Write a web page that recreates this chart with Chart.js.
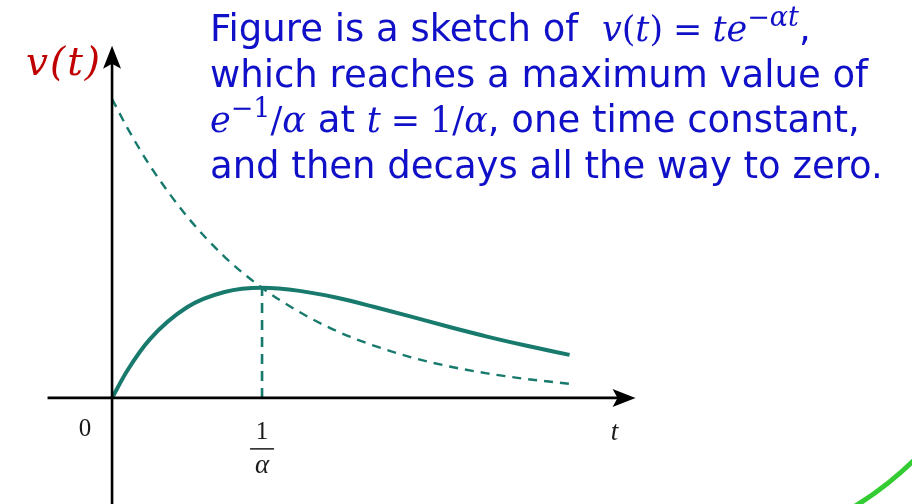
<!DOCTYPE html>
<html>
<head>
<meta charset="utf-8">
<script src="https://cdn.jsdelivr.net/npm/chart.js@4.4.1/dist/chart.umd.min.js"></script>
<style>
  html, body { margin: 0; padding: 0; background: #fff; }
  #wrap { position: relative; width: 912px; height: 504px; overflow: hidden; }
  #plot { position: absolute; left: 0; top: 0; }
  #note {
    position: absolute; left: 210px; top: 6px;
    font-family: "DejaVu Sans", Verdana, sans-serif;
    font-size: 37px; line-height: 45px; color: #1010c8;
    white-space: nowrap;
  }
  #note .m { font-family: "DejaVu Serif", "Liberation Serif", serif; font-size: 35px; }
  #note .m i { font-style: italic; }
  #note .eq { margin: 0 10px; }
  #note sup { font-size: 27px; vertical-align: 15px; line-height: 0; }
</style>
</head>
<body>
<div id="wrap">
  <canvas id="plot" width="912" height="504"></canvas>
  <div id="note">
    Figure is a sketch of&nbsp; <span class="m"><i>v</i>(<i>t</i>)<span class="eq">=</span><i>te</i><sup>−<i>αt</i></sup></span>,<br>
    which reaches a maximum value of<br>
    <span class="m"><i>e</i><sup>−1</sup>/<i>α</i></span> at <span class="m"><i>t</i><span class="eq">=</span>1/<i>α</i></span>, one time constant,<br>
    and then decays all the way to zero.
  </div>
</div>
<script>
// time in units of 1/alpha
const tValues = [0, 0.1, 0.25, 0.5, 0.75, 1, 1.25, 1.5, 1.75, 2, 2.25, 2.5, 2.75, 3.05];
// v(t) = t e^(-at)
const responseValues = [0, 0.09, 0.195, 0.303, 0.354, 0.368, 0.358, 0.335, 0.304, 0.271, 0.237, 0.205, 0.176, 0.144];
// e^(-at) envelope (dashed)
const envelopeValues = [1, 0.905, 0.779, 0.607, 0.472, 0.368, 0.287, 0.223, 0.174, 0.135, 0.105, 0.082, 0.064, 0.047];
// marker at one time constant
const peakT = [1, 1];
const peakV = [0, 0.368];

const teal = '#177a6d';

function toPoints(xs, ys){
    return xs.map(function(x, i){ return {x: x, y: ys[i]}; });
}

// axes, arrows and axis labels drawn on top of the datasets
const sketchAxes = {
    id: 'sketchAxes',
    afterDraw: function(chart){
        const ctx = chart.ctx;
        const xs = chart.scales.x, ys = chart.scales.y;
        const x0 = xs.getPixelForValue(0), y0 = ys.getPixelForValue(0);
        const xEnd = xs.getPixelForValue(3.49), xStart = xs.getPixelForValue(-0.43);
        const yTop = ys.getPixelForValue(1.178), yBot = ys.getPixelForValue(-0.36);

        ctx.save();
        ctx.strokeStyle = '#000';
        ctx.fillStyle = '#000';
        ctx.lineWidth = 2.6;
        ctx.beginPath();
        ctx.moveTo(xStart, y0); ctx.lineTo(xEnd - 10, y0);
        ctx.moveTo(x0, yBot); ctx.lineTo(x0, yTop + 10);
        ctx.stroke();

        // arrow heads
        ctx.beginPath();
        ctx.moveTo(xEnd, y0);
        ctx.lineTo(xEnd - 23, y0 - 9);
        ctx.lineTo(xEnd - 18, y0);
        ctx.lineTo(xEnd - 23, y0 + 9);
        ctx.closePath();
        ctx.fill();
        ctx.beginPath();
        ctx.moveTo(x0, yTop);
        ctx.lineTo(x0 - 9, yTop + 23);
        ctx.lineTo(x0, yTop + 18);
        ctx.lineTo(x0 + 9, yTop + 23);
        ctx.closePath();
        ctx.fill();

        // labels
        ctx.textAlign = 'center';
        ctx.textBaseline = 'middle';
        ctx.fillStyle = '#1a1a1a';
        ctx.font = '25px "Liberation Serif", serif';
        ctx.fillText('0', x0 - 27, y0 + 32);
        const xa = xs.getPixelForValue(1);
        ctx.fillText('1', xa, y0 + 35);
        ctx.lineWidth = 1.5;
        ctx.strokeStyle = '#1a1a1a';
        ctx.beginPath();
        ctx.moveTo(xa - 12, y0 + 51); ctx.lineTo(xa + 12, y0 + 51);
        ctx.stroke();
        ctx.font = 'italic 27px "Liberation Serif", serif';
        ctx.fillText('α', xa, y0 + 68);
        ctx.fillText('t', xs.getPixelForValue(3.35), y0 + 35);

        ctx.fillStyle = '#c00000';
        ctx.font = 'italic 39px "DejaVu Serif", "Liberation Serif", serif';
        ctx.letterSpacing = '2px';
        ctx.textAlign = 'right';
        ctx.fillText('v(t)', x0 - 10, ys.getPixelForValue(1.115));
        ctx.letterSpacing = '0px';

        // green arc in the lower right corner
        ctx.strokeStyle = '#33cc33';
        ctx.lineWidth = 5;
        ctx.beginPath();
        ctx.arc(676, 216, 341, 0.6, 1.2);
        ctx.stroke();
        ctx.restore();
    }
};

new Chart(document.getElementById('plot'), {
    type: 'line',
    data: {
        datasets: [{
            label: 'v(t)',
            data: toPoints(tValues, responseValues),
            borderColor: teal,
            borderWidth: 4,
            pointRadius: 0,
            cubicInterpolationMode: 'monotone',
            fill: false
        }, {
            label: 'envelope',
            data: toPoints(tValues, envelopeValues),
            borderColor: teal,
            borderWidth: 2.4,
            borderDash: [9, 7],
            pointRadius: 0,
            cubicInterpolationMode: 'monotone',
            fill: false
        }, {
            label: 'peak',
            data: toPoints(peakT, peakV),
            borderColor: teal,
            borderWidth: 2.6,
            borderDash: [10, 7],
            pointRadius: 0,
            fill: false
        }]
    },
    options: {
        responsive: false,
        animation: false,
        events: [],
        layout: { padding: 0 },
        plugins: {
            legend: { display: false },
            tooltip: { enabled: false }
        },
        scales: {
            x: { type: 'linear', display: false, min: -0.747, max: 5.333 },
            y: { type: 'linear', display: false, min: -0.355, max: 1.331 }
        }
    },
    plugins: [sketchAxes]
});
</script>
</body>
</html>
